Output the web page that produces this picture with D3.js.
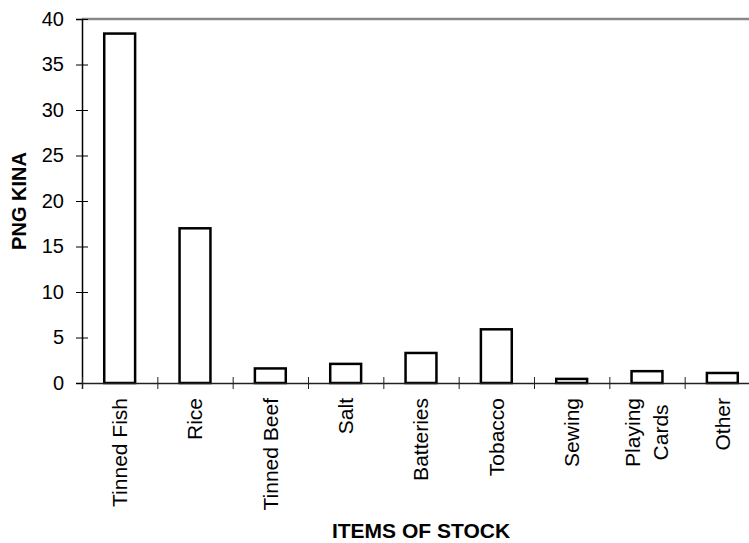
<!DOCTYPE html>
<html>
<head>
<meta charset="utf-8">
<script src="https://cdn.jsdelivr.net/npm/d3@7"></script>
<style>
    body { margin: 0; background: #fff; }
    svg { display: block; font-family: "Liberation Sans", Arial, sans-serif; }
</style>
</head>
<body>
<div id="chart"></div>
<script>
// stock items and their value in kina
var categories = ["Tinned Fish", "Rice", "Tinned Beef", "Salt", "Batteries", "Tobacco", "Sewing", "Playing Cards", "Other"];
var values = [38.4, 17.0, 1.6, 2.1, 3.3, 5.9, 0.45, 1.3, 1.1];
var yTicks = [0, 5, 10, 15, 20, 25, 30, 35, 40];
// labels that wrap onto two lines
var labelLines = {"Playing Cards": ["Playing", "Cards"]};

var width = 749, height = 543;
var plotLeft = 82, plotTop = 19, plotBottom = 383;
var plotRight = 760; // plot area runs a little past the window edge

var svg = d3.select("#chart").append("svg")
    .attr("width", width)
    .attr("height", height);

var x = d3.scaleBand()
    .domain(categories)
    .range([plotLeft, plotRight])
    .padding(0);

var y = d3.scaleLinear()
    .domain([0, 40])
    .range([plotBottom, plotTop]);

// grey top edge of plot area
svg.append("line")
    .attr("x1", plotLeft).attr("x2", plotRight)
    .attr("y1", y(40)).attr("y2", y(40))
    .style("stroke", "#888")
    .style("stroke-width", 2.3);

// bars
var barW = x.bandwidth() * 0.41;
svg.selectAll(".bar")
    .data(values)
    .enter().append("rect")
    .attr("class", "bar")
    .attr("x", function(d, i) { return x(categories[i]) + (x.bandwidth() - barW) / 2; })
    .attr("y", function(d) { return y(d); })
    .attr("width", barW)
    .attr("height", function(d) { return plotBottom - y(d); })
    .style("fill", "#fff")
    .style("stroke", "#000")
    .style("stroke-width", 2.5);

// y axis
var yAxis = svg.append("g")
    .attr("transform", `translate(${plotLeft},0)`)
    .call(d3.axisLeft(y).tickValues(yTicks).tickSize(6).tickPadding(12));
yAxis.select(".domain").style("stroke", "#000").style("stroke-width", 1.5);
yAxis.selectAll(".tick line").attr("x1", -6).attr("x2", 6).style("stroke", "#000");
yAxis.selectAll(".tick text")
    .style("font-size", "20px")
    .style("fill", "#000")
    .style("font-family", "Liberation Sans, Arial, sans-serif");

// x axis, ticks sit between the categories
var edges = d3.scaleLinear().domain([0, categories.length]).range([plotLeft, plotRight]);
var xAxis = svg.append("g")
    .attr("transform", `translate(0,${plotBottom})`)
    .call(d3.axisBottom(edges).tickValues(d3.range(categories.length + 1)).tickSize(6).tickFormat(""));
xAxis.select(".domain").style("stroke", "#222").style("stroke-width", 1.5);
xAxis.selectAll(".tick line").attr("y1", -6).attr("y2", 6).style("stroke", "#222");

// rotated category labels
var labelTop = 398;
var lineGap = 28;
categories.forEach(function(c) {
    var lines = labelLines[c] || [c];
    var cx = x(c) + x.bandwidth() / 2;
    var g = svg.append("g")
        .attr("transform", `translate(${cx},${labelTop}) rotate(-90)`);
    var texts = lines.map(function(t, i) {
        return g.append("text")
            .attr("y", (i - (lines.length - 1) / 2) * lineGap)
            .attr("dy", "0.35em")
            .style("font-size", "21px")
            .text(t);
    });
    var maxLen = d3.max(texts, function(t) { return t.node().getComputedTextLength(); });
    texts.forEach(function(t) {
        t.attr("x", -maxLen / 2).attr("text-anchor", "middle");
    });
});

// axis titles
svg.append("text")
    .attr("transform", `translate(26,${(plotTop + plotBottom) / 2}) rotate(-90)`)
    .attr("text-anchor", "middle")
    .style("font-size", "20px")
    .style("font-weight", "bold")
    .text("PNG KINA");

svg.append("text")
    .attr("x", (plotLeft + plotRight) / 2)
    .attr("y", 538)
    .attr("text-anchor", "middle")
    .style("font-size", "21px")
    .style("font-weight", "bold")
    .text("ITEMS OF STOCK");
</script>
</body>
</html>
